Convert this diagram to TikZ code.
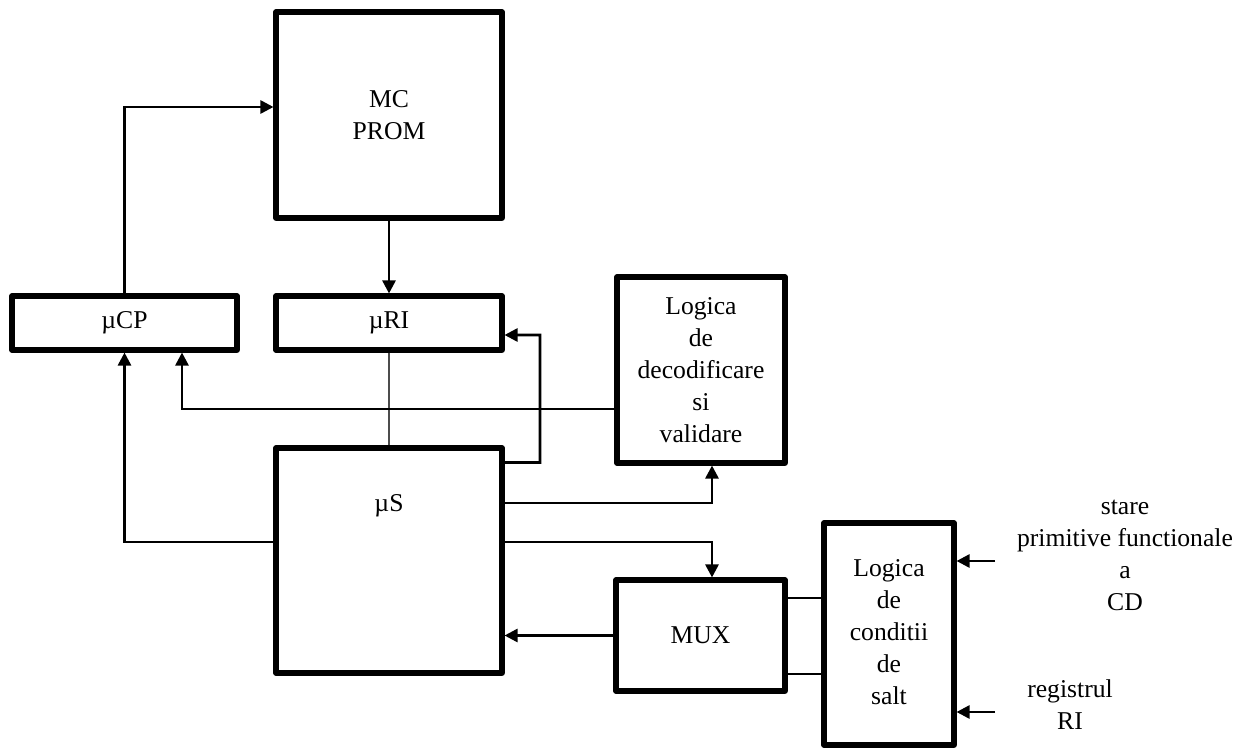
\documentclass[tikz,border=0pt]{standalone}
\usepackage{fontspec}
\setmainfont{Liberation Serif}
\usetikzlibrary{arrows.meta}
\begin{document}
\begin{tikzpicture}[x=0.02cm,y=-0.02cm,
  box/.style={draw,line width=2.9pt,line join=round,inner sep=0pt,align=center,
    font=\fontsize{14.6}{18.2}\selectfont},
  lbl/.style={inner sep=0pt,align=center,font=\fontsize{14.6}{18.2}\selectfont},
  conn/.style={line width=1.5pt},
  arr/.style={conn,-{Triangle[length=0.26cm,width=0.26cm]}},
  thin/.style={line width=0.7pt,black!70}]
\useasboundingbox (0,0) rectangle (1253,749);
% boxes
\node[box,minimum width=4.52cm,minimum height=4.12cm] (mc) at (389,115) {MC\\PROM};
\node[box,minimum width=4.50cm,minimum height=1.08cm] (ucp) at (124.5,323) {µCP};
\node[box,minimum width=4.52cm,minimum height=1.08cm] (uri) at (389,323) {µRI};
\node[box,minimum width=3.36cm,minimum height=3.72cm] (dec) at (701,370) {Logica\\de\\decodificare\\si\\validare};
\node[box,minimum width=4.52cm,minimum height=4.50cm] (us) at (389,560.5) {};
\node[lbl] (uslabel) at (389,506) {µS};
\node[box,minimum width=3.38cm,minimum height=2.22cm] (mux) at (700.5,635.5) {MUX};
\node[box,minimum width=2.60cm,minimum height=4.44cm] (cond) at (889,634) {\raisebox{-0.2cm}{\begin{tabular}{@{}c@{}}Logica\\de\\conditii\\de\\salt\end{tabular}}};
% external labels
\node[lbl] (stare) at (1125,555) {stare\\primitive functionale\\a\\CD};
\node[lbl] (reg) at (1070,705) {registrul\\RI};
\coordinate (in1) at (995,561);
\coordinate (in2) at (995,712);
\coordinate (m1) at ([yshift=0.75cm]mux.east);
\coordinate (m2) at ([yshift=-0.77cm]mux.east);
% connectors
\draw[arr] (ucp.north) |- ([yshift=0.16cm]mc.west);
\draw[arr] (mc.south) -- (uri.north);
\draw[thin] (uri.south) -- (us.north);
\draw[arr] ([yshift=-0.34cm]us.north east) -| (540,335) -- ([yshift=-0.24cm]uri.east);
\draw[arr] ([yshift=-0.78cm]dec.west) -| ([xshift=1.15cm]ucp.south);
\draw[arr] ([yshift=0.37cm]us.west) -| (ucp.south);
\draw[arr] ([yshift=1.15cm]us.east) -| ([xshift=0.22cm]dec.south);
\draw[arr] ([yshift=0.37cm]us.east) -| ([xshift=0.23cm]mux.north);
\draw[arr] (mux.west) -- (us.east |- mux.west);
\draw[conn] (m1) -- (cond.west |- m1);
\draw[conn] (m2) -- (cond.west |- m2);
\draw[arr] (in1) -- (cond.east |- in1);
\draw[arr] (in2) -- (cond.east |- in2);
\end{tikzpicture}
\end{document}
